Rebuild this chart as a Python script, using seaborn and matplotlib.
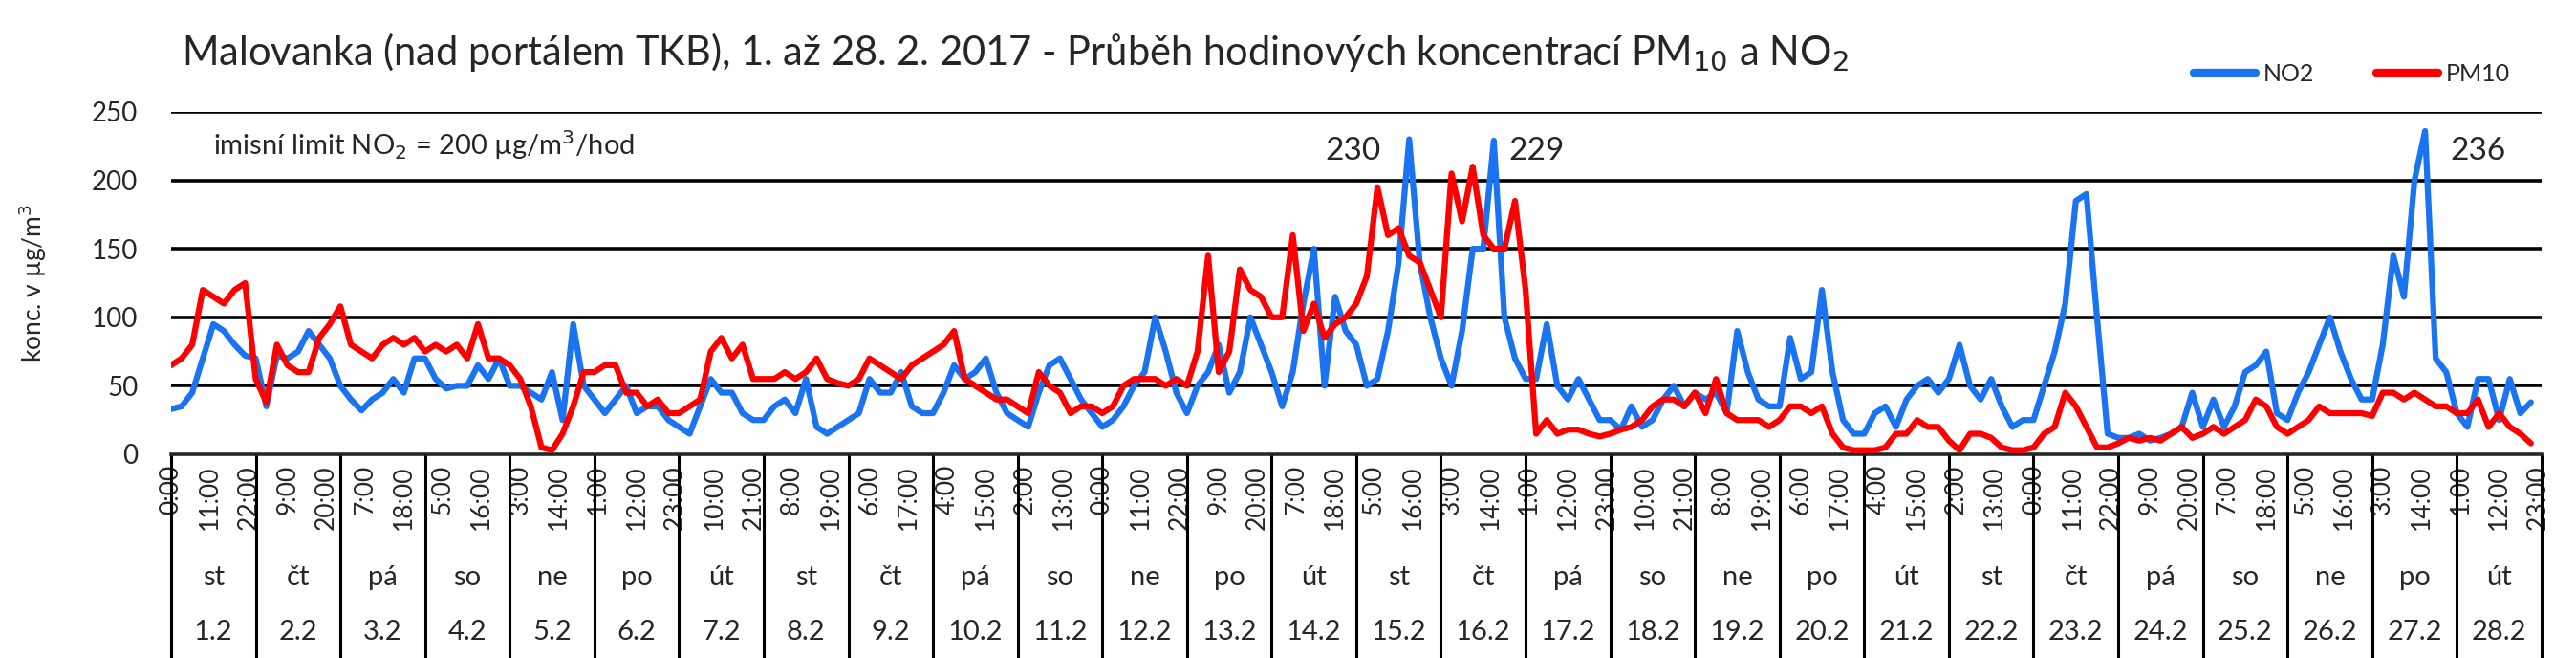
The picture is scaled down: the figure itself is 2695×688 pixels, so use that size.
import numpy as np
import pandas as pd
import matplotlib
matplotlib.use("Agg")
import matplotlib.pyplot as plt
import seaborn as sns
from matplotlib.lines import Line2D

# 3-hourly readings (0,3,...,21 h) per day, 1.-28. 2. 2017
no2 = [
    33, 35, 45, 70, 95, 90, 80, 72,
    70, 35, 72, 70, 75, 90, 80, 70,
    50, 40, 32, 40, 45, 55, 45, 70,
    70, 55, 48, 50, 50, 65, 55, 70,
    50, 50, 45, 40, 60, 25, 95, 50,
    40, 30, 40, 50, 30, 35, 35, 25,
    20, 15, 35, 55, 45, 45, 30, 25,
    25, 35, 40, 30, 55, 20, 15, 20,
    25, 30, 55, 45, 45, 60, 35, 30,
    30, 45, 65, 55, 60, 70, 45, 30,
    25, 20, 45, 65, 70, 55, 40, 30,
    20, 25, 35, 50, 60, 100, 75, 45,
    30, 50, 60, 80, 45, 60, 100, 80,
    60, 35, 60, 110, 150, 50, 115, 90,
    80, 50, 55, 90, 140, 230, 140, 100,
    70, 50, 90, 150, 150, 229, 100, 70,
    55, 55, 95, 50, 40, 55, 40, 25,
    25, 18, 35, 20, 25, 40, 50, 35,
    45, 40, 45, 30, 90, 60, 40, 35,
    35, 85, 55, 60, 120, 60, 25, 15,
    15, 30, 35, 20, 40, 50, 55, 45,
    55, 80, 50, 40, 55, 35, 20, 25,
    25, 50, 75, 110, 185, 190, 100, 15,
    12, 12, 15, 10, 12, 15, 20, 45,
    20, 40, 20, 35, 60, 65, 75, 30,
    25, 45, 60, 80, 100, 75, 55, 40,
    40, 80, 145, 115, 200, 236, 70, 60,
    30, 20, 55, 55, 25, 55, 30, 38,
]
pm10 = [
    65, 70, 80, 120, 115, 110, 120, 125,
    55, 38, 80, 65, 60, 60, 85, 95,
    108, 80, 75, 70, 80, 85, 80, 85,
    75, 80, 75, 80, 70, 95, 70, 70,
    65, 55, 35, 5, 3, 15, 35, 60,
    60, 65, 65, 45, 45, 35, 40, 30,
    30, 35, 40, 75, 85, 70, 80, 55,
    55, 55, 60, 55, 60, 70, 55, 52,
    50, 55, 70, 65, 60, 55, 65, 70,
    75, 80, 90, 55, 50, 45, 40, 40,
    35, 30, 60, 50, 45, 30, 35, 35,
    30, 35, 50, 55, 55, 55, 50, 55,
    50, 75, 145, 60, 75, 135, 120, 115,
    100, 100, 160, 90, 110, 85, 95, 100,
    110, 130, 195, 160, 165, 145, 140, 120,
    100, 205, 170, 210, 160, 150, 150, 185,
    120, 15, 25, 15, 18, 18, 15, 13,
    15, 18, 20, 25, 35, 40, 40, 35,
    45, 30, 55, 30, 25, 25, 25, 20,
    25, 35, 35, 30, 35, 15, 5, 3,
    3, 3, 5, 15, 15, 25, 20, 20,
    10, 3, 15, 15, 12, 5, 3, 3,
    5, 15, 20, 45, 35, 20, 5, 5,
    8, 12, 10, 12, 10, 15, 20, 12,
    15, 20, 15, 20, 25, 40, 35, 20,
    15, 20, 25, 35, 30, 30, 30, 30,
    28, 45, 45, 40, 45, 40, 35, 35,
    30, 30, 40, 20, 30, 20, 15, 8,
]
weekdays = ["st", "čt", "pá", "so", "ne", "po", "út"] * 4
dates = [f"{d}.2" for d in range(1, 29)]
peaks = [(335, "230"), (387, "229"), (654, "236")]

hours = np.arange(len(no2)) * 3
df = pd.DataFrame({"h": np.concatenate([hours, hours]),
                   "v": no2 + pm10,
                   "s": ["NO2"] * len(no2) + ["PM10"] * len(pm10)})

sns.set_style("white")
plt.rcParams["font.family"] = ["Lato", "DejaVu Sans"]

fig = plt.figure(figsize=(26.95, 6.88), dpi=100)
ax = fig.add_axes([0.0664, 0.3096, 0.9202, 0.5204])
for y in [50, 100, 150, 200, 250]:
    ax.axhline(y, color="black", lw=2.6, zorder=1)
sns.lineplot(data=df, x="h", y="v", hue="s", palette={"NO2": "#1a73f0", "PM10": "#ff0000"},
             lw=4.5, ax=ax, legend=False, zorder=3)

ax.set_xlim(0, 672)
ax.set_ylim(0, 250)
ax.set_yticks([0, 50, 100, 150, 200, 250])
ax.tick_params(axis="y", labelsize=20, length=0, pad=25)
ticks = np.arange(0, 672, 11)
ax.set_xticks(ticks)
ax.set_xticklabels([f"{t % 24}:00" for t in ticks], rotation=90, fontsize=19)
ax.tick_params(axis="x", length=0, pad=8)
for s in ["left", "right", "top"]:
    ax.spines[s].set_visible(False)
ax.spines["bottom"].set_linewidth(2.6)
ax.set_xlabel("")
ax.set_ylabel("konc. v µg/m$^3$", fontsize=19, labelpad=32)

ax.vlines(np.arange(0, 673, 24), -0.6, 0, transform=ax.get_xaxis_transform(),
          color="black", lw=2.2, clip_on=False)
for i in range(28):
    ax.text(24 * i + 12, -0.36, weekdays[i], transform=ax.get_xaxis_transform(),
            ha="center", va="center", fontsize=21)
    ax.text(24 * i + 12, -0.52, dates[i], transform=ax.get_xaxis_transform(),
            ha="center", va="center", fontsize=21)

for h, t in peaks:
    ax.text(h, 221, t, ha="center", va="center", fontsize=24)
ax.text(12, 226, "imisní limit NO$_2$ = 200 µg/m$^3$/hod", fontsize=21, va="center")

fig.text(0.0705, 0.92, "Malovanka (nad portálem TKB), 1. až 28. 2. 2017 - Průběh hodinových koncentrací PM$_{10}$ a NO$_2$",
         fontsize=30, va="center")

handles = [Line2D([], [], color="#1a73f0", lw=6), Line2D([], [], color="#ff0000", lw=6)]
fig.legend(handles, ["NO2", "PM10"], loc="center", bbox_to_anchor=(0.913, 0.888), ncol=2,
           frameon=False, fontsize=18, handlelength=2.6, handletextpad=0.3, columnspacing=2.6)

fig.savefig("out.png", dpi=100)
